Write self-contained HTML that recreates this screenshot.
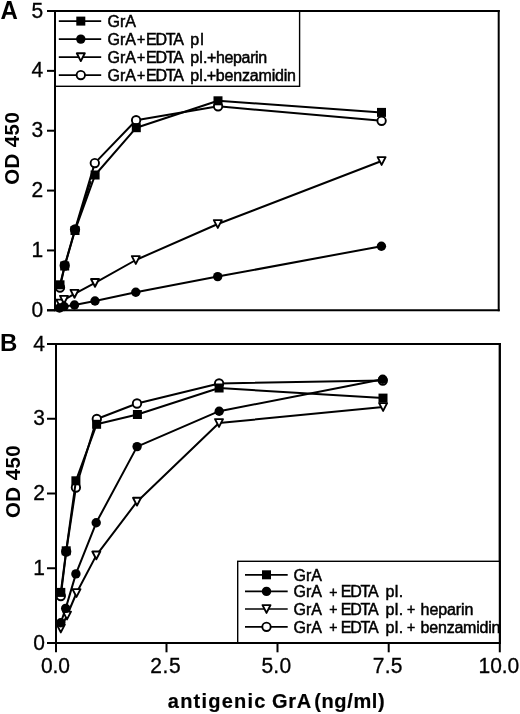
<!DOCTYPE html>
<html><head><meta charset="utf-8"><style>
html,body{margin:0;padding:0;background:#fff;width:520px;height:714px;overflow:hidden}
svg{display:block;filter:grayscale(1)}
</style></head><body>
<svg width="520" height="714" viewBox="0 0 520 714">
<rect width="520" height="714" fill="#fff"/>
<g font-family="&quot;Liberation Sans&quot;, sans-serif" fill="#000">
<line x1="47" y1="11" x2="499.7" y2="11" stroke="#000" stroke-width="2.0"/>
<line x1="498.7" y1="10" x2="498.7" y2="311.3" stroke="#000" stroke-width="2.0"/>
<line x1="47" y1="310.3" x2="499.7" y2="310.3" stroke="#000" stroke-width="2.0"/>
<line x1="55" y1="10" x2="55" y2="311.3" stroke="#000" stroke-width="2.0"/>
<line x1="47" y1="310.3" x2="55" y2="310.3" stroke="#000" stroke-width="2.0"/>
<text x="43.3" y="0" font-size="21" text-anchor="end" stroke="#000" stroke-width="0.3" transform="translate(0,316.9) scale(1,1.06)">0</text>
<line x1="47" y1="250.44" x2="55" y2="250.44" stroke="#000" stroke-width="2.0"/>
<text x="43.3" y="0" font-size="21" text-anchor="end" stroke="#000" stroke-width="0.3" transform="translate(0,257.04) scale(1,1.06)">1</text>
<line x1="47" y1="190.58" x2="55" y2="190.58" stroke="#000" stroke-width="2.0"/>
<text x="43.3" y="0" font-size="21" text-anchor="end" stroke="#000" stroke-width="0.3" transform="translate(0,197.18) scale(1,1.06)">2</text>
<line x1="47" y1="130.72" x2="55" y2="130.72" stroke="#000" stroke-width="2.0"/>
<text x="43.3" y="0" font-size="21" text-anchor="end" stroke="#000" stroke-width="0.3" transform="translate(0,137.32) scale(1,1.06)">3</text>
<line x1="47" y1="70.86000000000001" x2="55" y2="70.86000000000001" stroke="#000" stroke-width="2.0"/>
<text x="43.3" y="0" font-size="21" text-anchor="end" stroke="#000" stroke-width="0.3" transform="translate(0,77.46) scale(1,1.06)">4</text>
<line x1="47" y1="11.0" x2="55" y2="11.0" stroke="#000" stroke-width="2.0"/>
<text x="43.3" y="0" font-size="21" text-anchor="end" stroke="#000" stroke-width="0.3" transform="translate(0,17.6) scale(1,1.06)">5</text>
<text x="0.4" y="0" font-size="24" font-weight="bold" transform="translate(0,18.6) scale(1,1.05)">A</text>
<text x="0" y="0" font-size="20.5" font-weight="bold" textLength="72.62" lengthAdjust="spacing" transform="translate(18.9,184.80) rotate(-90)">OD 450</text>
<rect x="55" y="11" width="244.60000000000002" height="75.3" fill="none" stroke="#000" stroke-width="1.4"/>
<line x1="58.8" y1="21.1" x2="101.2" y2="21.1" stroke="#000" stroke-width="1.7"/>
<rect x="76.30" y="16.60" width="9.0" height="9.0"/>
<text x="107.6" y="26.8" font-size="16" textLength="28.23" lengthAdjust="spacing" stroke="#000" stroke-width="0.5">GrA</text>
<line x1="58.8" y1="39.1" x2="101.2" y2="39.1" stroke="#000" stroke-width="1.7"/>
<circle cx="80.80" cy="39.10" r="4.7"/>
<text x="107.6" y="44.8" font-size="16" textLength="28.23" lengthAdjust="spacing" stroke="#000" stroke-width="0.5">GrA</text>
<text x="137.1" y="44.2" font-size="14" stroke="#000" stroke-width="0.5">+</text>
<text x="146.0" y="44.8" font-size="16" textLength="37.9" lengthAdjust="spacing" stroke="#000" stroke-width="0.5">EDTA</text>
<text x="190.3" y="44.8" font-size="16" textLength="13.44" lengthAdjust="spacing" stroke="#000" stroke-width="0.5">pl</text>
<line x1="58.8" y1="57.2" x2="101.2" y2="57.2" stroke="#000" stroke-width="1.7"/>
<path d="M76.80,53.30 L84.80,53.30 L80.80,61.10 Z" fill="#fff" stroke="#000" stroke-width="1.9" stroke-linejoin="round"/>
<text x="107.6" y="62.9" font-size="16" textLength="28.23" lengthAdjust="spacing" stroke="#000" stroke-width="0.5">GrA</text>
<text x="137.1" y="62.3" font-size="14" stroke="#000" stroke-width="0.5">+</text>
<text x="146.0" y="62.9" font-size="16" textLength="37.9" lengthAdjust="spacing" stroke="#000" stroke-width="0.5">EDTA</text>
<text x="190.3" y="62.9" font-size="16" textLength="17.04" lengthAdjust="spacing" stroke="#000" stroke-width="0.5">pl.</text>
<text x="207.1" y="62.9" font-size="16" textLength="60.06" lengthAdjust="spacing" stroke="#000" stroke-width="0.5">+heparin</text>
<line x1="58.8" y1="75.1" x2="101.2" y2="75.1" stroke="#000" stroke-width="1.7"/>
<circle cx="80.80" cy="75.10" r="4.2" fill="#fff" stroke="#000" stroke-width="1.9"/>
<text x="107.6" y="80.8" font-size="16" textLength="28.23" lengthAdjust="spacing" stroke="#000" stroke-width="0.5">GrA</text>
<text x="137.1" y="80.2" font-size="14" stroke="#000" stroke-width="0.5">+</text>
<text x="146.0" y="80.8" font-size="16" textLength="37.9" lengthAdjust="spacing" stroke="#000" stroke-width="0.5">EDTA</text>
<text x="190.3" y="80.8" font-size="16" textLength="17.04" lengthAdjust="spacing" stroke="#000" stroke-width="0.5">pl.</text>
<text x="206.7" y="80.8" font-size="16" textLength="89.28" lengthAdjust="spacing" stroke="#000" stroke-width="0.5">+benzamidin</text>
<line x1="75" y1="230" x2="90.96" y2="181.24" stroke="#000" stroke-width="1.6"/>
<polyline points="60.30,303.50 64.00,299.80 74.50,293.80 95.00,282.90 135.80,260.00 217.80,224.00 381.60,161.00" fill="none" stroke="#000" stroke-width="2.0" stroke-linejoin="round"/>
<path d="M56.30,299.60 L64.30,299.60 L60.30,307.40 Z" fill="#fff" stroke="#000" stroke-width="1.9" stroke-linejoin="round"/>
<path d="M60.00,295.90 L68.00,295.90 L64.00,303.70 Z" fill="#fff" stroke="#000" stroke-width="1.9" stroke-linejoin="round"/>
<path d="M70.50,289.90 L78.50,289.90 L74.50,297.70 Z" fill="#fff" stroke="#000" stroke-width="1.9" stroke-linejoin="round"/>
<path d="M91.00,279.00 L99.00,279.00 L95.00,286.80 Z" fill="#fff" stroke="#000" stroke-width="1.9" stroke-linejoin="round"/>
<path d="M131.80,256.10 L139.80,256.10 L135.80,263.90 Z" fill="#fff" stroke="#000" stroke-width="1.9" stroke-linejoin="round"/>
<path d="M213.80,220.10 L221.80,220.10 L217.80,227.90 Z" fill="#fff" stroke="#000" stroke-width="1.9" stroke-linejoin="round"/>
<path d="M377.60,157.10 L385.60,157.10 L381.60,164.90 Z" fill="#fff" stroke="#000" stroke-width="1.9" stroke-linejoin="round"/>
<polyline points="60.00,287.50 64.70,265.50 75.00,229.50 94.80,163.10 136.10,120.20 218.10,106.30 381.60,120.80" fill="none" stroke="#000" stroke-width="2.0" stroke-linejoin="round"/>
<circle cx="60.00" cy="287.50" r="4.2" fill="#fff" stroke="#000" stroke-width="1.9"/>
<circle cx="64.70" cy="265.50" r="4.2" fill="#fff" stroke="#000" stroke-width="1.9"/>
<circle cx="75.00" cy="229.50" r="4.2" fill="#fff" stroke="#000" stroke-width="1.9"/>
<circle cx="94.80" cy="163.10" r="4.2" fill="#fff" stroke="#000" stroke-width="1.9"/>
<circle cx="136.10" cy="120.20" r="4.2" fill="#fff" stroke="#000" stroke-width="1.9"/>
<circle cx="218.10" cy="106.30" r="4.2" fill="#fff" stroke="#000" stroke-width="1.9"/>
<circle cx="381.60" cy="120.80" r="4.2" fill="#fff" stroke="#000" stroke-width="1.9"/>
<polyline points="59.50,308.00 64.00,306.50 74.50,305.00 95.00,301.00 135.80,292.30 217.70,276.60 381.40,246.20" fill="none" stroke="#000" stroke-width="2.0" stroke-linejoin="round"/>
<circle cx="59.50" cy="308.00" r="4.7"/>
<circle cx="64.00" cy="306.50" r="4.7"/>
<circle cx="74.50" cy="305.00" r="4.7"/>
<circle cx="95.00" cy="301.00" r="4.7"/>
<circle cx="135.80" cy="292.30" r="4.7"/>
<circle cx="217.70" cy="276.60" r="4.7"/>
<circle cx="381.40" cy="246.20" r="4.7"/>
<polyline points="60.00,284.80 64.70,266.00 75.00,230.50 95.10,175.00 136.30,127.70 218.00,100.80 381.50,112.40" fill="none" stroke="#000" stroke-width="2.0" stroke-linejoin="round"/>
<rect x="55.50" y="280.30" width="9.0" height="9.0"/>
<rect x="60.20" y="261.50" width="9.0" height="9.0"/>
<rect x="70.50" y="226.00" width="9.0" height="9.0"/>
<rect x="90.60" y="170.50" width="9.0" height="9.0"/>
<rect x="131.80" y="123.20" width="9.0" height="9.0"/>
<rect x="213.50" y="96.30" width="9.0" height="9.0"/>
<rect x="377.00" y="107.90" width="9.0" height="9.0"/>
<line x1="47" y1="344" x2="500.8" y2="344" stroke="#000" stroke-width="2.0"/>
<line x1="499.8" y1="343" x2="499.8" y2="644" stroke="#000" stroke-width="2.0"/>
<line x1="47" y1="643" x2="500.8" y2="643" stroke="#000" stroke-width="2.0"/>
<line x1="56" y1="343" x2="56" y2="652" stroke="#000" stroke-width="2.0"/>
<line x1="47" y1="643.0" x2="56" y2="643.0" stroke="#000" stroke-width="2.0"/>
<text x="45" y="0" font-size="21" text-anchor="end" stroke="#000" stroke-width="0.3" transform="translate(0,649.6) scale(1,1.06)">0</text>
<line x1="47" y1="568.25" x2="56" y2="568.25" stroke="#000" stroke-width="2.0"/>
<text x="45" y="0" font-size="21" text-anchor="end" stroke="#000" stroke-width="0.3" transform="translate(0,574.85) scale(1,1.06)">1</text>
<line x1="47" y1="493.5" x2="56" y2="493.5" stroke="#000" stroke-width="2.0"/>
<text x="45" y="0" font-size="21" text-anchor="end" stroke="#000" stroke-width="0.3" transform="translate(0,500.1) scale(1,1.06)">2</text>
<line x1="47" y1="418.75" x2="56" y2="418.75" stroke="#000" stroke-width="2.0"/>
<text x="45" y="0" font-size="21" text-anchor="end" stroke="#000" stroke-width="0.3" transform="translate(0,425.35) scale(1,1.06)">3</text>
<line x1="47" y1="344.0" x2="56" y2="344.0" stroke="#000" stroke-width="2.0"/>
<text x="45" y="0" font-size="21" text-anchor="end" stroke="#000" stroke-width="0.3" transform="translate(0,350.6) scale(1,1.06)">4</text>
<line x1="56" y1="643" x2="56" y2="652.3" stroke="#000" stroke-width="2.0"/>
<line x1="166.5" y1="643" x2="166.5" y2="652.3" stroke="#000" stroke-width="2.0"/>
<line x1="277.5" y1="643" x2="277.5" y2="652.3" stroke="#000" stroke-width="2.0"/>
<line x1="388.7" y1="643" x2="388.7" y2="652.3" stroke="#000" stroke-width="2.0"/>
<line x1="499.8" y1="643" x2="499.8" y2="652.3" stroke="#000" stroke-width="2.0"/>
<text x="41.0" y="0" font-size="21" textLength="29.0" lengthAdjust="spacing" stroke="#000" stroke-width="0.3" transform="translate(0,673.1) scale(1,1.06)">0.0</text>
<text x="150.3" y="0" font-size="21" textLength="30.26" lengthAdjust="spacing" stroke="#000" stroke-width="0.3" transform="translate(0,673.1) scale(1,1.06)">2.5</text>
<text x="261.5" y="0" font-size="21" textLength="29.58" lengthAdjust="spacing" stroke="#000" stroke-width="0.3" transform="translate(0,673.1) scale(1,1.06)">5.0</text>
<text x="372.7" y="0" font-size="21" textLength="29.77" lengthAdjust="spacing" stroke="#000" stroke-width="0.3" transform="translate(0,673.1) scale(1,1.06)">7.5</text>
<text x="478.5" y="0" font-size="21" textLength="40.8" lengthAdjust="spacing" stroke="#000" stroke-width="0.3" transform="translate(0,673.1) scale(1,1.06)">10.0</text>
<text x="0" y="351" font-size="24" font-weight="bold">B</text>
<text x="0" y="0" font-size="20.5" font-weight="bold" textLength="72.72" lengthAdjust="spacing" transform="translate(19.6,518.00) rotate(-90)">OD 450</text>
<text x="167.8" y="0" font-size="20" font-weight="bold" textLength="97.58" lengthAdjust="spacing" stroke="#000" stroke-width="0.2" transform="translate(0,708.3) scale(1,1.03)">antigenic</text>
<text x="271.9" y="0" font-size="20" font-weight="bold" textLength="39.43" lengthAdjust="spacing" stroke="#000" stroke-width="0.2" transform="translate(0,708.3) scale(1,1.03)">GrA</text>
<text x="314.2" y="0" font-size="20" font-weight="bold" textLength="70.54" lengthAdjust="spacing" stroke="#000" stroke-width="0.2" transform="translate(0,708.3) scale(1,1.03)">(ng/ml)</text>
<polyline points="60.80,628.50 67.00,615.50 76.50,593.00 96.30,555.40 137.00,501.70 219.00,423.00 383.10,407.00" fill="none" stroke="#000" stroke-width="2.0" stroke-linejoin="round"/>
<path d="M56.80,624.60 L64.80,624.60 L60.80,632.40 Z" fill="#fff" stroke="#000" stroke-width="1.9" stroke-linejoin="round"/>
<path d="M63.00,611.60 L71.00,611.60 L67.00,619.40 Z" fill="#fff" stroke="#000" stroke-width="1.9" stroke-linejoin="round"/>
<path d="M72.50,589.10 L80.50,589.10 L76.50,596.90 Z" fill="#fff" stroke="#000" stroke-width="1.9" stroke-linejoin="round"/>
<path d="M92.30,551.50 L100.30,551.50 L96.30,559.30 Z" fill="#fff" stroke="#000" stroke-width="1.9" stroke-linejoin="round"/>
<path d="M133.00,497.80 L141.00,497.80 L137.00,505.60 Z" fill="#fff" stroke="#000" stroke-width="1.9" stroke-linejoin="round"/>
<path d="M215.00,419.10 L223.00,419.10 L219.00,426.90 Z" fill="#fff" stroke="#000" stroke-width="1.9" stroke-linejoin="round"/>
<path d="M379.10,403.10 L387.10,403.10 L383.10,410.90 Z" fill="#fff" stroke="#000" stroke-width="1.9" stroke-linejoin="round"/>
<polyline points="60.80,596.00 66.20,551.50 75.90,487.50 96.80,419.00 137.00,403.50 219.10,383.50 382.80,380.50" fill="none" stroke="#000" stroke-width="2.0" stroke-linejoin="round"/>
<circle cx="60.80" cy="596.00" r="4.2" fill="#fff" stroke="#000" stroke-width="1.9"/>
<circle cx="66.20" cy="551.50" r="4.2" fill="#fff" stroke="#000" stroke-width="1.9"/>
<circle cx="75.90" cy="487.50" r="4.2" fill="#fff" stroke="#000" stroke-width="1.9"/>
<circle cx="96.80" cy="419.00" r="4.2" fill="#fff" stroke="#000" stroke-width="1.9"/>
<circle cx="137.00" cy="403.50" r="4.2" fill="#fff" stroke="#000" stroke-width="1.9"/>
<circle cx="219.10" cy="383.50" r="4.2" fill="#fff" stroke="#000" stroke-width="1.9"/>
<circle cx="382.80" cy="380.50" r="4.2" fill="#fff" stroke="#000" stroke-width="1.9"/>
<polyline points="60.80,622.80 65.70,608.40 75.90,573.90 96.20,522.80 137.10,446.60 219.20,411.20 382.70,379.30" fill="none" stroke="#000" stroke-width="2.0" stroke-linejoin="round"/>
<circle cx="60.80" cy="622.80" r="4.7"/>
<circle cx="65.70" cy="608.40" r="4.7"/>
<circle cx="75.90" cy="573.90" r="4.7"/>
<circle cx="96.20" cy="522.80" r="4.7"/>
<circle cx="137.10" cy="446.60" r="4.7"/>
<circle cx="219.20" cy="411.20" r="4.7"/>
<circle cx="382.70" cy="379.30" r="4.7"/>
<polyline points="60.80,592.40 66.20,550.80 75.90,480.80 96.60,424.30 137.40,414.50 219.10,388.00 383.00,398.10" fill="none" stroke="#000" stroke-width="2.0" stroke-linejoin="round"/>
<rect x="56.30" y="587.90" width="9.0" height="9.0"/>
<rect x="61.70" y="546.30" width="9.0" height="9.0"/>
<rect x="71.40" y="476.30" width="9.0" height="9.0"/>
<rect x="92.10" y="419.80" width="9.0" height="9.0"/>
<rect x="132.90" y="410.00" width="9.0" height="9.0"/>
<rect x="214.60" y="383.50" width="9.0" height="9.0"/>
<rect x="378.50" y="393.60" width="9.0" height="9.0"/>
<rect x="237.7" y="561.3" width="262.1" height="81.70000000000005" fill="#fff" stroke="#000" stroke-width="1.4"/>
<line x1="245" y1="574.8" x2="287.7" y2="574.8" stroke="#000" stroke-width="1.7"/>
<rect x="262.00" y="570.30" width="9.0" height="9.0"/>
<text x="293.5" y="580.5" font-size="16" textLength="28.32" lengthAdjust="spacing" stroke="#000" stroke-width="0.5">GrA</text>
<line x1="245" y1="591.4" x2="287.7" y2="591.4" stroke="#000" stroke-width="1.7"/>
<circle cx="266.50" cy="591.40" r="4.7"/>
<text x="293.5" y="597.1" font-size="16" textLength="28.32" lengthAdjust="spacing" stroke="#000" stroke-width="0.5">GrA</text>
<text x="329.35" y="596.5" font-size="14" stroke="#000" stroke-width="0.5">+</text>
<text x="340.8" y="597.1" font-size="16" textLength="37.8" lengthAdjust="spacing" stroke="#000" stroke-width="0.5">EDTA</text>
<text x="385.6" y="597.1" font-size="16" textLength="17.6" lengthAdjust="spacing" stroke="#000" stroke-width="0.5">pl.</text>
<line x1="245" y1="609.0" x2="287.7" y2="609.0" stroke="#000" stroke-width="1.7"/>
<path d="M262.50,605.10 L270.50,605.10 L266.50,612.90 Z" fill="#fff" stroke="#000" stroke-width="1.9" stroke-linejoin="round"/>
<text x="293.5" y="614.7" font-size="16" textLength="28.32" lengthAdjust="spacing" stroke="#000" stroke-width="0.5">GrA</text>
<text x="329.35" y="614.1" font-size="14" stroke="#000" stroke-width="0.5">+</text>
<text x="340.8" y="614.7" font-size="16" textLength="37.8" lengthAdjust="spacing" stroke="#000" stroke-width="0.5">EDTA</text>
<text x="385.6" y="614.7" font-size="16" textLength="17.6" lengthAdjust="spacing" stroke="#000" stroke-width="0.5">pl.</text>
<text x="406.95" y="614.1" font-size="14" stroke="#000" stroke-width="0.5">+</text>
<text x="420.6" y="614.7" font-size="16" textLength="52.89" lengthAdjust="spacing" stroke="#000" stroke-width="0.5">heparin</text>
<line x1="245" y1="626.8" x2="287.7" y2="626.8" stroke="#000" stroke-width="1.7"/>
<circle cx="266.50" cy="626.80" r="4.2" fill="#fff" stroke="#000" stroke-width="1.9"/>
<text x="293.5" y="632.5" font-size="16" textLength="28.32" lengthAdjust="spacing" stroke="#000" stroke-width="0.5">GrA</text>
<text x="329.35" y="631.9" font-size="14" stroke="#000" stroke-width="0.5">+</text>
<text x="340.8" y="632.5" font-size="16" textLength="37.8" lengthAdjust="spacing" stroke="#000" stroke-width="0.5">EDTA</text>
<text x="385.6" y="632.5" font-size="16" textLength="17.6" lengthAdjust="spacing" stroke="#000" stroke-width="0.5">pl.</text>
<text x="406.95" y="631.9" font-size="14" stroke="#000" stroke-width="0.5">+</text>
<text x="420.6" y="632.5" font-size="16" textLength="79.85" lengthAdjust="spacing" stroke="#000" stroke-width="0.5">benzamidin</text>
<line x1="47" y1="643" x2="500.8" y2="643" stroke="#000" stroke-width="2.0"/>
<line x1="499.8" y1="343" x2="499.8" y2="644" stroke="#000" stroke-width="2.0"/>
</g></svg>
</body></html>
